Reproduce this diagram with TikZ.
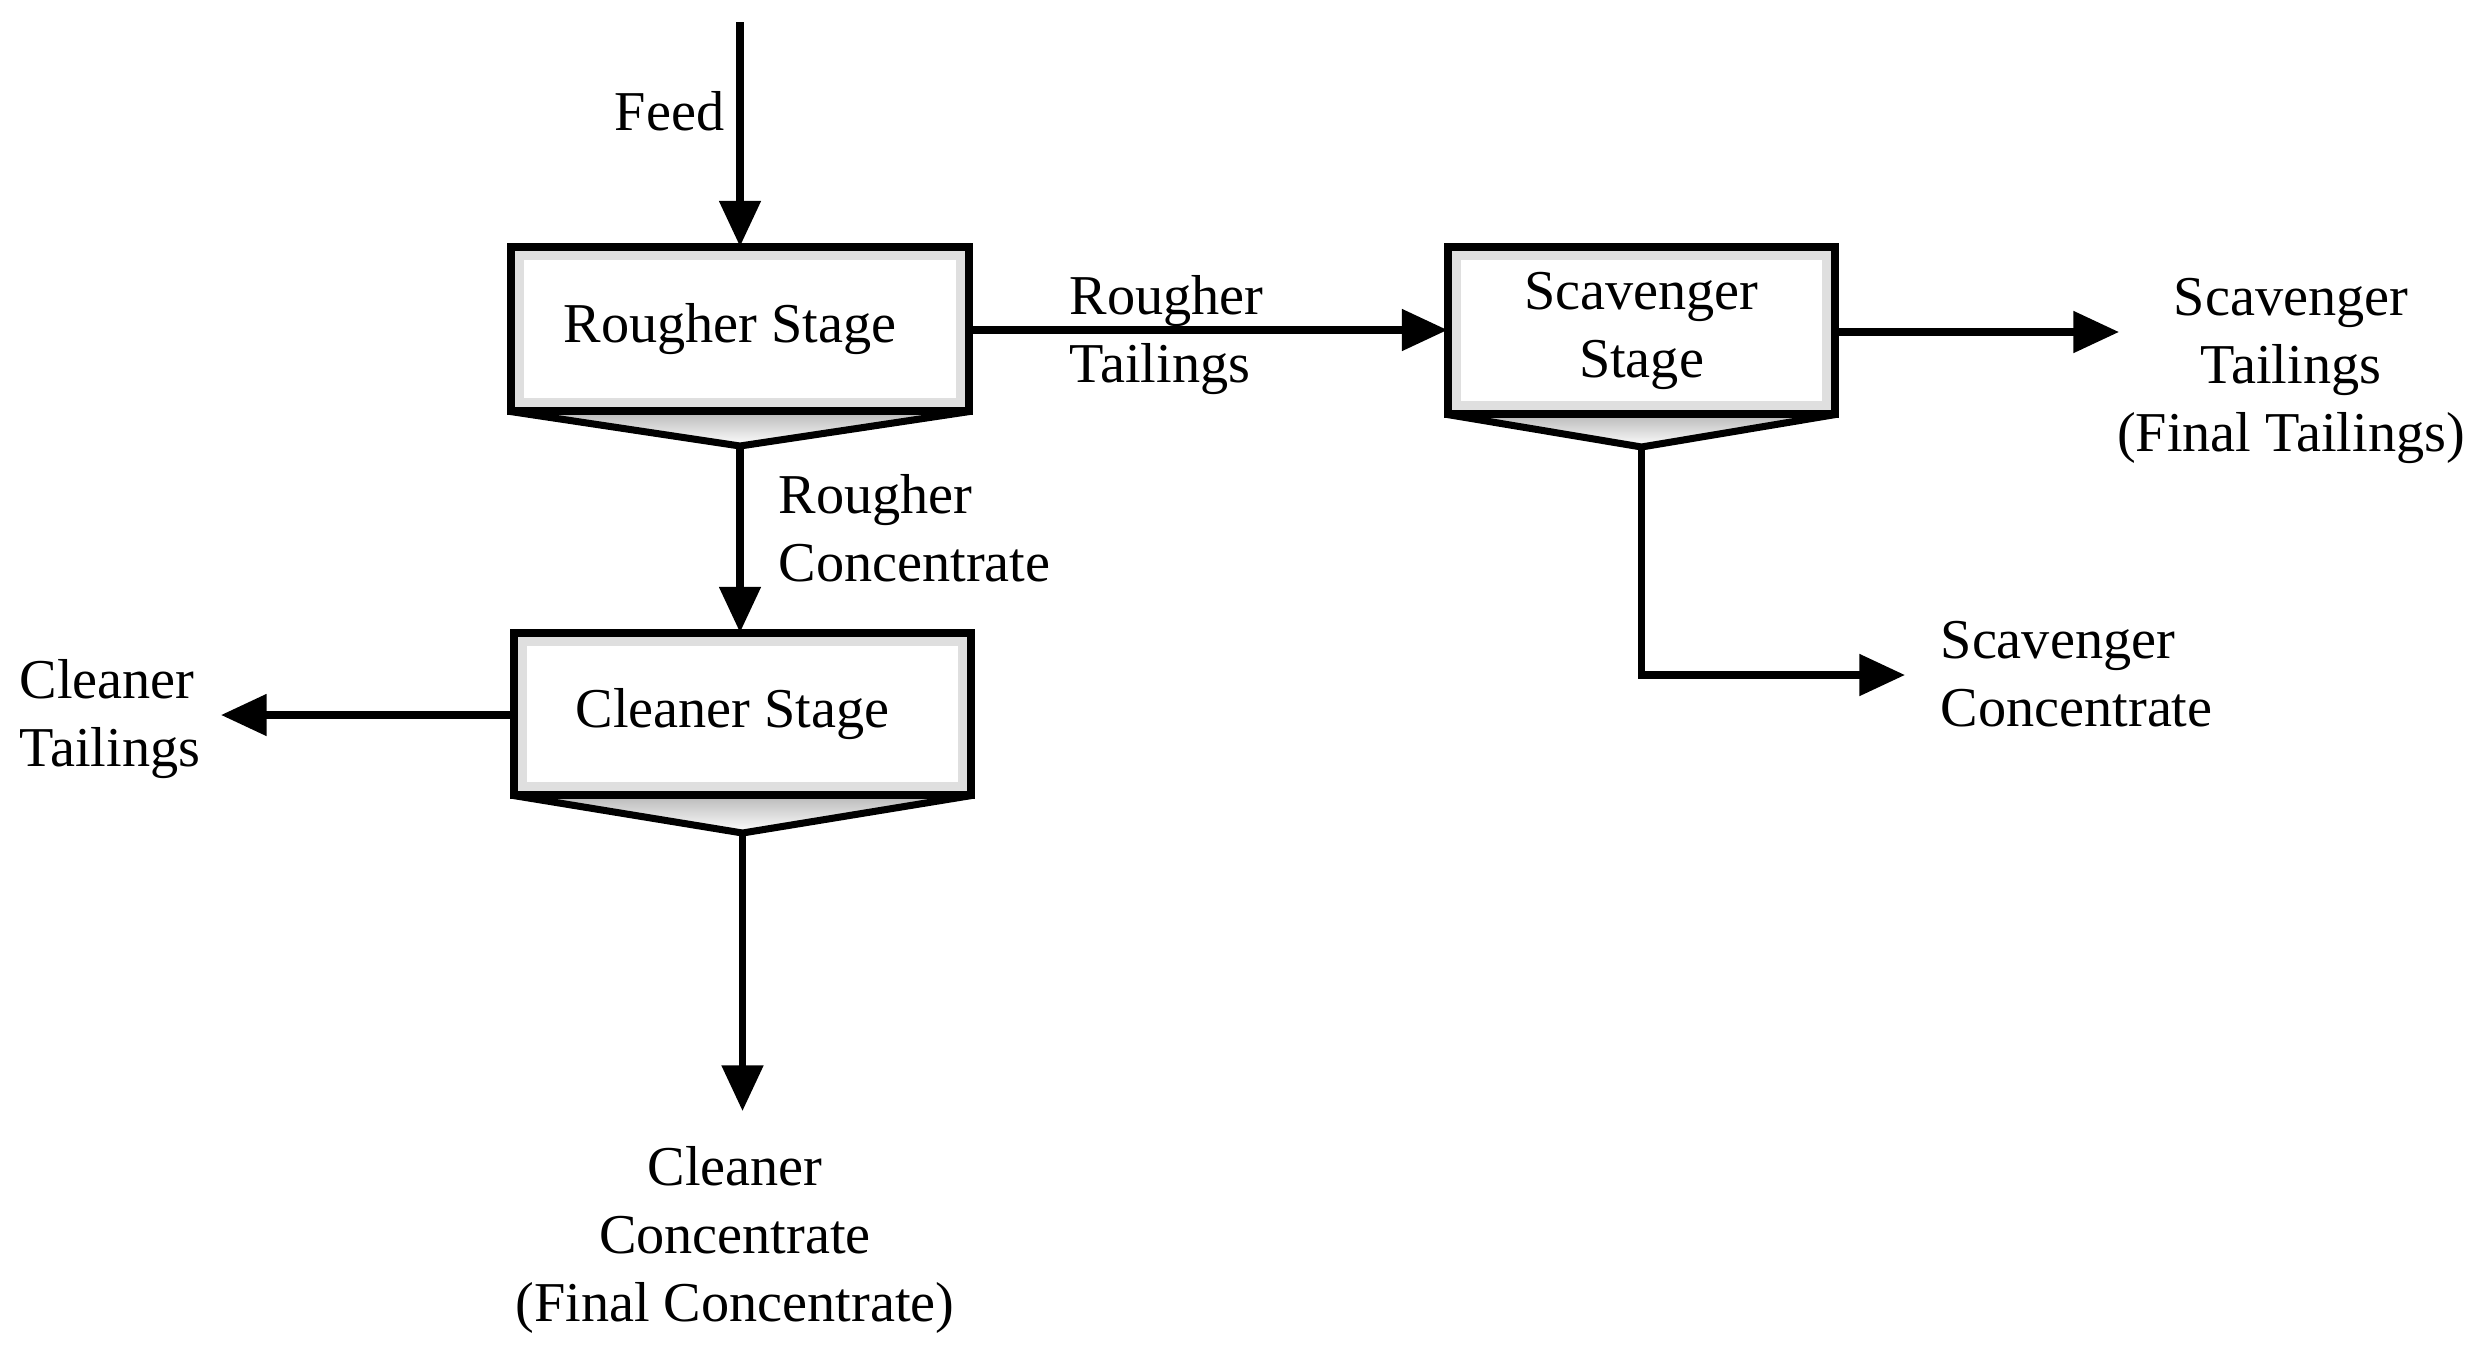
\documentclass[tikz,border=0pt]{standalone}
\usepackage{fontspec}
\setmainfont{Liberation Serif}
\usetikzlibrary{arrows.meta}
\begin{document}
\begin{tikzpicture}[x=0.01cm,y=-0.01cm,
  flow/.style={line width=2pt,-{Triangle[length=13pt,width=11.5pt]}},
  lbl/.style={font=\fontsize{16}{19.3}\selectfont,inner sep=0pt,align=left},
  lblc/.style={font=\fontsize{16}{19.3}\selectfont,inner sep=0pt,align=center},
  stage/.style={draw,line width=2pt,fill=white,inner sep=0pt}]
\useasboundingbox (0,0) rectangle (2479,1354);
\newcommand{\mystage}[6]{% name, x1,y1,x2,y2, apex y
  \node[stage,minimum width={(#4-#2)*0.01cm},minimum height={(#5-#3)*0.01cm}] (#1) at ({(#2+#4)/2},{(#3+#5)/2}) {};
  \draw[gray!25,line width=2.5pt] ([xshift=2.5pt,yshift=-2.5pt]#1.north west) rectangle ([xshift=-2.5pt,yshift=2.5pt]#1.south east);
  \coordinate (#1apex) at ({(#2+#4)/2},#6);
  \shade[top color=gray!55,bottom color=white] (#1.south west) -- (#1apex) -- (#1.south east) -- cycle;
  \draw[line width=2pt,line join=miter] (#1.south west) -- (#1apex) -- (#1.south east);
  \draw[line width=2pt] (#1.north west) rectangle (#1.south east);
}
\mystage{R}{514}{250}{966}{408}{446}
\mystage{S}{1451}{250}{1832}{411}{447}
\mystage{C}{517}{636}{968}{792}{833}
\node[lblc] at ([xshift=-0.1cm]R) {Rougher Stage};
\node[lblc] at (S) {Scavenger\\Stage};
\node[lblc] at ([xshift=-0.1cm]C) {Cleaner Stage};
% feed
\coordinate (feedtop) at (740,22);
\draw[flow] (feedtop) -- (R.north);
\node[lbl,anchor=east] at (725,111) {Feed};
% rougher tailings
\draw[flow] (R.east |- 0,330) -- (S.west |- 0,330);
\node[lbl,anchor=north west] at (1069,275) {Rougher\\Tailings};
% scavenger tailings
\coordinate (st) at (2119,332);
\draw[flow] (S.east |- st) -- (st);
\node[lblc,anchor=north] at (2291,278) {Scavenger\\Tailings\\(Final Tailings)};
% scavenger concentrate
\coordinate (sc) at (1905,675);
\draw[flow] (Sapex) |- (sc);
\node[lbl,anchor=north west] at (1940,621) {Scavenger\\Concentrate};
% rougher concentrate
\draw[flow] (Rapex) -- (R.south |- C.north);
\node[lbl,anchor=north west] at (778,474) {Rougher\\Concentrate};
% cleaner tailings
\coordinate (ct) at (221,715);
\draw[flow] (C.west |- ct) -- (ct);
\node[lbl,anchor=north west] at (19,659) {Cleaner\\Tailings};
% cleaner concentrate
\coordinate (cc) at (Capex |- 0,1111);
\draw[flow] (Capex) -- (cc);
\node[lblc,anchor=north] at (735,1146) {Cleaner\\Concentrate\\(Final Concentrate)};
\end{tikzpicture}
\end{document}
